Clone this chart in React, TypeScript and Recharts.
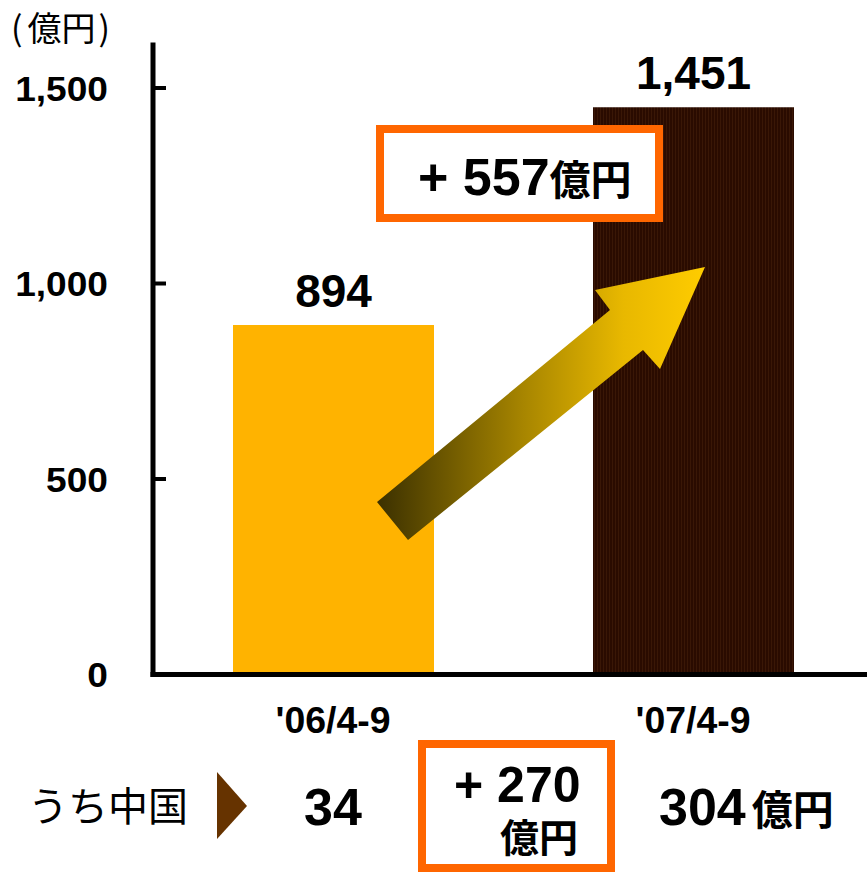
import { BarChart, Bar, XAxis, YAxis, Cell, LabelList } from "recharts";

const periods = ["'06/4-9", "'07/4-9"];
const salesValues = [894, 1451];
const chinaValues = [34, 304];
const yTicks = [0, 500, 1000, 1500];
const barColors = ["#FFB300", "url(#darkStripes)"];

const LATIN = "'Liberation Sans', Arial, sans-serif";
const CJK = "'Noto Sans CJK JP', 'Noto Sans', sans-serif";
const ORANGE = "#FF6600";
const Y_TICK_MARGIN = 45;

const data = periods.map((period, i) => ({
  period,
  sales: salesValues[i],
}));

const salesDiff = salesValues[1] - salesValues[0];
const chinaDiff = chinaValues[1] - chinaValues[0];

function YTick(props: any) {
  const { x, y, payload } = props;
  const axisX = x + Y_TICK_MARGIN;
  return (
    <g>
      <line x1={axisX} y1={y} x2={axisX + 13} y2={y} stroke="#000" strokeWidth={4} />
      <text
        transform={`translate(${x},${y + 12.5}) scale(1.06,1)`}
        textAnchor="end"
        fontFamily={LATIN}
        fontWeight={700}
        fontSize={35}
        fill="#000"
      >
        {payload.value.toLocaleString("en-US")}
      </text>
    </g>
  );
}

function XTick(props: any) {
  const { x, y, payload } = props;
  return (
    <text
      transform={`translate(${x},${y + 58}) scale(1.04,1)`}
      textAnchor="middle"
      fontFamily={LATIN}
      fontWeight={700}
      fontSize={36}
      fill="#000"
    >
      {payload.value}
    </text>
  );
}

export default function App() {
  return (
    <div
      style={{
        position: "absolute",
        left: 0,
        top: 0,
        width: 867,
        height: 872,
        overflow: "hidden",
        background: "#fff",
      }}
    >
      <svg width={0} height={0} style={{ position: "absolute" }}>
        <defs>
          <pattern id="darkStripes" width={3} height={4} patternUnits="userSpaceOnUse">
            <rect width={3} height={4} fill="#2a0b00" />
            <rect width={1} height={4} fill="#3a1706" />
          </pattern>
          <linearGradient id="arrowGrad" gradientUnits="userSpaceOnUse" x1={377} y1={0} x2={705} y2={0}>
            <stop offset="0" stopColor="#3b3000" />
            <stop offset="0.45" stopColor="#a88600" />
            <stop offset="0.75" stopColor="#e8b800" />
            <stop offset="1" stopColor="#ffcc00" />
          </linearGradient>
        </defs>
      </svg>

      <BarChart
        width={873}
        height={872}
        data={data}
        margin={{ top: 45, right: 0, bottom: 137.5, left: 0 }}
      >
        <YAxis
          width={153}
          domain={[0, 1610]}
          ticks={yTicks}
          interval={0}
          tickSize={0}
          tickMargin={Y_TICK_MARGIN}
          tickLine={false}
          axisLine={{ stroke: "#000", strokeWidth: 5, strokeLinecap: "square" }}
          tick={<YTick />}
        />
        <XAxis
          dataKey="period"
          height={60}
          tickSize={0}
          tickMargin={0}
          tickLine={false}
          axisLine={{ stroke: "#000", strokeWidth: 5, strokeLinecap: "square" }}
          tick={<XTick />}
        />
        <Bar dataKey="sales" barSize={201} isAnimationActive={false}>
          {data.map((d, i) => (
            <Cell key={d.period} fill={barColors[i]} />
          ))}
          <LabelList
            dataKey="sales"
            position="top"
            offset={18}
            formatter={(v: any) => Number(v).toLocaleString("en-US")}
            fill="#000"
            fontSize={46}
            fontWeight={700}
            fontFamily={LATIN}
          />
        </Bar>
      </BarChart>

      <svg
        width={867}
        height={872}
        style={{ position: "absolute", left: 0, top: 0, pointerEvents: "none" }}
      >
        {/* unit label */}
        <text x={11} y={41} fontFamily={CJK} fontSize={34} fill="#000">
          (<tspan dx={5}>億円</tspan>
          <tspan dx={3}>)</tspan>
        </text>

        {/* growth arrow */}
        <polygon
          points="377,502 610,310 595,290 705,267 660,369 643,350 408,540"
          fill="url(#arrowGrad)"
        />

        {/* total difference box */}
        <rect x={380} y={129} width={279} height={89} fill="#fff" stroke={ORANGE} strokeWidth={8} />
        <text x={418} y={195} fontFamily={LATIN} fontWeight={700} fontSize={52} fill="#000">
          {`+ ${salesDiff}`}
          <tspan fontFamily={CJK} fontSize={41}>
            億円
          </tspan>
        </text>

        {/* China row */}
        <text x={28} y={821} fontFamily={CJK} fontSize={40} fill="#000">
          うち中国
        </text>
        <polygon points="217,772 247,806 217,839" fill="#663300" />
        <text x={333} y={825} textAnchor="middle" fontFamily={LATIN} fontWeight={700} fontSize={52} fill="#000">
          {chinaValues[0]}
        </text>
        <rect x={422} y={744} width={189} height={124} fill="#fff" stroke={ORANGE} strokeWidth={8} />
        <text x={454} y={802} fontFamily={LATIN} fontWeight={700} fontSize={50} fill="#000">
          {`+ ${chinaDiff}`}
        </text>
        <text x={500} y={852} fontFamily={CJK} fontWeight={700} fontSize={39} fill="#000">
          億円
        </text>
        <text x={659} y={825} fontFamily={LATIN} fontWeight={700} fontSize={52} fill="#000">
          {chinaValues[1]}
          <tspan dx={6} fontFamily={CJK} fontSize={41}>
            億円
          </tspan>
        </text>
      </svg>
    </div>
  );
}
